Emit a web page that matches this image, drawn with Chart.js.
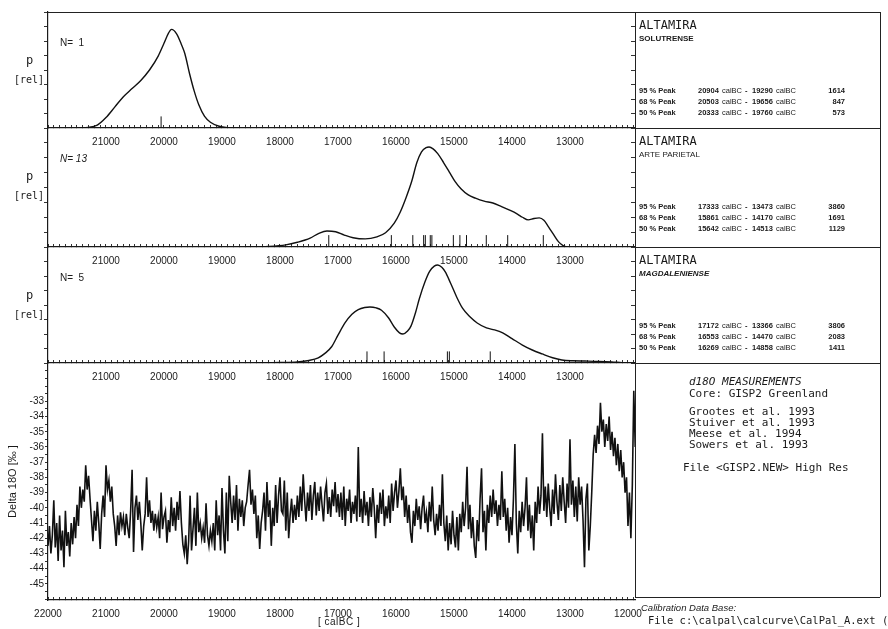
<!DOCTYPE html>
<html><head><meta charset="utf-8">
<script src="https://cdn.jsdelivr.net/npm/chart.js@4.4.1/dist/chart.umd.min.js"></script>
<style>
html,body{margin:0;padding:0;background:#fff;}
body{width:888px;height:629px;position:relative;overflow:hidden;font-family:'Liberation Sans',Arial,sans-serif;color:#1a1a1a;}
canvas{position:absolute;left:0;}
.t{position:absolute;white-space:pre;line-height:1;}
.hl{position:absolute;height:0;border-top:1px solid #222;}
.vl{position:absolute;width:0;border-left:1px solid #222;}
.mono{font-family:'DejaVu Sans Mono',monospace;}
.alt{font-size:12px;}
.sub{font-size:8px;font-weight:bold;}
.row{font-size:7.5px;font-weight:bold;}
.bx{font-size:11px;}
</style></head><body>
<canvas id="c1" width="655" height="142" style="top:10px"></canvas>
<canvas id="c2" width="655" height="145" style="top:126px"></canvas>
<canvas id="c3" width="655" height="142" style="top:245px"></canvas>
<canvas id="c4" width="655" height="265" style="top:361px"></canvas>

<div class="hl" style="left:48px;top:12px;width:832px"></div>
<div class="hl" style="left:635px;top:128px;width:245px"></div>
<div class="hl" style="left:635px;top:247px;width:245px"></div>
<div class="hl" style="left:635px;top:363px;width:245px"></div>
<div class="hl" style="left:635px;top:597px;width:245px"></div>
<div class="vl" style="left:635px;top:12px;height:586px"></div>
<div class="vl" style="left:880px;top:12px;height:585px"></div>

<div id="txt"></div>

<script>
// ---------- axis tick labels ----------
const panelTickLabels = [21000, 20000, 19000, 18000, 17000, 16000, 15000, 14000, 13000];
const d18oXTickLabels = [22000, 21000, 20000, 19000, 18000, 17000, 16000, 15000, 14000, 13000, 12000];
const d18oYTickLabels = [-33, -34, -35, -36, -37, -38, -39, -40, -41, -42, -43, -44, -45];

// ---------- Panel 1: SOLUTRENSE (N=1) ----------
const solutrenseYears = [21500, 21300, 21150, 21000, 20850, 20700, 20550, 20400, 20250, 20100, 20000, 19920, 19870, 19780, 19700, 19640, 19560, 19480, 19400, 19300, 19200, 19050, 18900, 18700];
const solutrenseP     = [0, 0.005, 0.025, 0.09, 0.18, 0.27, 0.34, 0.41, 0.5, 0.62, 0.73, 0.82, 0.85, 0.81, 0.72, 0.64, 0.47, 0.32, 0.2, 0.1, 0.05, 0.015, 0.003, 0];
const solutrenseSamples = [20050];

// ---------- Panel 2: ARTE PARIETAL (N=13) ----------
const parietalYears = [18600, 18200, 17900, 17700, 17480, 17330, 17190, 17040, 16890, 16740, 16530, 16330, 16180, 16030, 15930, 15830, 15730, 15640, 15560, 15480, 15430, 15360, 15280, 15180, 15080, 14980, 14880, 14760, 14630, 14480, 14330, 14180, 14020, 13920, 13820, 13720, 13620, 13530, 13450, 13370, 13290, 13200, 13120, 13050];
const parietalP     = [0, 0.005, 0.018, 0.04, 0.075, 0.115, 0.135, 0.128, 0.1, 0.078, 0.068, 0.085, 0.12, 0.2, 0.29, 0.41, 0.55, 0.71, 0.8, 0.835, 0.84, 0.825, 0.785, 0.71, 0.63, 0.55, 0.49, 0.44, 0.41, 0.385, 0.37, 0.34, 0.305, 0.28, 0.25, 0.228, 0.24, 0.245, 0.225, 0.17, 0.11, 0.045, 0.012, 0];
const parietalSamples = [17159, 16080, 15710, 15523, 15494, 15409, 15381, 15011, 14898, 14784, 14443, 14074, 13460];

// ---------- Panel 3: MAGDALENIENSE (N=5) ----------
const magdaYears = [18400, 18000, 17700, 17500, 17340, 17220, 17110, 17000, 16880, 16760, 16650, 16540, 16450, 16340, 16250, 16130, 16030, 15940, 15880, 15800, 15740, 15660, 15600, 15500, 15420, 15340, 15280, 15210, 15150, 15060, 14950, 14850, 14730, 14600, 14440, 14300, 14160, 14000, 13820, 13650, 13480, 13300, 13140, 12950, 12740, 12500, 12280, 12100, 11950];
const magdaP     = [0, 0.004, 0.009, 0.022, 0.045, 0.085, 0.14, 0.24, 0.345, 0.42, 0.46, 0.478, 0.483, 0.475, 0.455, 0.39, 0.31, 0.26, 0.25, 0.275, 0.32, 0.44, 0.55, 0.7, 0.79, 0.835, 0.845, 0.825, 0.785, 0.69, 0.565, 0.47, 0.4, 0.345, 0.302, 0.285, 0.259, 0.21, 0.155, 0.112, 0.078, 0.045, 0.026, 0.019, 0.017, 0.014, 0.009, 0.003, 0];
const magdaSamples = [16500, 16205, 15114, 15080, 14375];

// ---------- Panel 4: GISP2 delta 18O, 25-year steps starting 22000 calBC ----------
const d18oStart = 22000, d18oStep = 25;
const d18o_a = [-42.5,-41.2,-43.0,-41.8,-39.5,-42.6,-41.0,-43.5,-40.5,-42.8,-41.5,-43.9,-40.2,-42.5,-41.6,-43.2,-41.0,-42.4,-40.6,-42.0,-39.8,-41.2,-38.6,-40.0,-38.8,-39.6,-37.2,-38.8,-37.9,-39.4,-40.8,-42.2,-40.2,-41.5,-39.6,-41.0,-42.7,-40.4,-39.2,-40.6];
const d18o_b = [-37.2,-38.8,-38.2,-39.6,-38.6,-40.4,-41.2,-42.5,-40.5,-41.8,-40.3,-41.2,-40.6,-41.8,-40.4,-41.3,-42.0,-40.2,-37.5,-42.9,-40.0,-39.2,-40.8,-39.6,-41.0,-42.8,-41.2,-40.4,-38.0,-40.6,-39.5,-41.0,-40.2,-41.5,-40.4,-41.3,-40.6,-42.0,-39.0,-41.4,-40.6];
const d18o_c = [-40.2,-42.3,-40.8,-41.6,-39.3,-41.2,-40.0,-41.5,-39.6,-40.8,-38.9,-41.0,-42.4,-43.0,-41.8,-43.7,-42.2,-39.2,-42.8,-41.4,-40.0,-42.5,-39.0,-41.6,-41.0,-42.0,-41.3,-42.3,-39.7,-41.8,-42.5,-41.5,-42.2,-41.0,-42.8,-39.5,-41.8,-40.5,-42.8,-38.7];
const d18o_d = [-41.5,-43.0,-39.0,-42.2,-37.9,-39.6,-41.0,-39.2,-40.8,-38.5,-41.5,-39.4,-40.6,-39.5,-41.2,-40.0,-39.6,-38.5,-37.5,-39.8,-38.8,-40.4,-39.2,-42.0,-40.5,-42.7,-41.0,-40.2,-39.0,-41.5,-38.3,-40.6,-39.5,-42.5,-40.0,-41.2,-38.5,-41.0,-39.2,-38.0,-40.2];
const d18o_e = [-40.4,-38.2,-41.5,-39.0,-42.0,-40.5,-39.4,-41.0,-39.8,-40.8,-39.2,-40.6,-38.6,-40.2,-37.8,-39.5,-40.9,-39.0,-40.2,-38.5,-40.8,-39.2,-38.3,-40.5,-39.0,-40.2,-38.6,-39.8,-40.9,-39.0,-38.4,-40.4,-39.3,-40.6,-38.8,-39.9,-38.3,-40.3,-39.1,-40.6];
const d18o_f = [-39.0,-40.8,-38.6,-41.2,-39.4,-40.2,-38.8,-41.0,-39.6,-40.4,-39.2,-40.9,-36.0,-40.6,-39.4,-41.0,-38.9,-40.5,-39.6,-41.2,-39.3,-40.6,-38.7,-40.0,-42.0,-39.8,-41.0,-39.0,-40.4,-38.8,-41.2,-39.9,-40.7,-39.2,-41.0,-38.4,-40.2,-39.0,-38.2,-40.0,-38.9];
const d18o_g = [-37.4,-39.5,-38.6,-40.6,-39.2,-41.0,-39.8,-41.6,-42.3,-40.2,-41.2,-39.4,-40.8,-39.9,-41.4,-40.0,-39.2,-41.0,-40.3,-41.6,-39.6,-40.9,-38.6,-40.8,-41.8,-40.4,-41.5,-39.8,-41.2,-37.8,-41.0,-42.2,-40.5,-42.8,-41.0,-42.4,-40.2,-41.8,-42.6,-40.6];
const d18o_h = [-42.8,-40.4,-41.6,-39.6,-41.2,-40.0,-37.3,-41.4,-39.8,-42.0,-40.6,-42.5,-43.3,-40.8,-42.2,-39.4,-37.4,-41.6,-40.2,-42.8,-39.8,-41.0,-39.2,-40.6,-38.8,-40.4,-39.5,-41.2,-39.8,-40.8,-37.6,-40.6,-39.4,-41.5,-40.0,-42.3,-40.6,-41.8,-39.4,-35.8,-41.0];
const d18o_i = [-43.0,-40.2,-41.6,-39.6,-41.2,-40.0,-38.0,-41.5,-39.8,-42.0,-40.5,-42.8,-39.6,-41.0,-38.6,-40.4,-39.2,-35.1,-40.2,-38.6,-40.6,-38.4,-40.0,-41.2,-38.8,-40.4,-37.8,-39.6,-40.8,-38.5,-40.2,-38.0,-39.6,-41.0,-38.4,-40.0,-35.5,-39.8,-38.2,-40.6];
const d18o_j = [-38.6,-40.9,-38.0,-39.8,-38.6,-40.8,-43.9,-39.4,-38.4,-42.8,-41.2,-39.0,-36.5,-35.2,-36.4,-34.6,-35.8,-33.1,-35.0,-34.2,-36.0,-34.5,-35.6,-34.0,-36.2,-35.0,-36.6,-35.4,-37.2,-35.8,-37.6,-36.2,-38.0,-37.0,-39.0,-38.0,-41.2,-39.0,-42.0,-38.5,-32.3,-36.0];

// ---------- text ----------
const boxes = [
  {top:12,  site:'ALTAMIRA', sub:'SOLUTRENSE', subStyle:'', n:'N=  1', nStyle:'',
   rows:[['95 % Peak','20904','19290','1614'],['68 % Peak','20503','19656','847'],['50 % Peak','20333','19760','573']]},
  {top:128, site:'ALTAMIRA', sub:'ARTE PARIETAL', subStyle:'font-weight:normal;', n:'N= 13', nStyle:'font-style:italic;',
   rows:[['95 % Peak','17333','13473','3860'],['68 % Peak','15861','14170','1691'],['50 % Peak','15642','14513','1129']]},
  {top:247, site:'ALTAMIRA', sub:'MAGDALENIENSE', subStyle:'font-style:italic;', n:'N=  5', nStyle:'',
   rows:[['95 % Peak','17172','13366','3806'],['68 % Peak','16553','14470','2083'],['50 % Peak','16269','14858','1411']]}
];

const txt = document.getElementById('txt');
function put(s, style, cls){ const d=document.createElement('div'); d.className='t '+(cls||''); d.style.cssText=style; d.textContent=s; txt.appendChild(d); return d; }

boxes.forEach(b=>{
  const T=b.top;
  put(b.site, `left:639px;top:${T+7}px;`, 'mono alt');
  put(b.sub, `left:639px;top:${T+23}px;`+b.subStyle, 'sub');
  b.rows.forEach((r,i)=>{
    const y=T+75+i*11;
    put(r[0], `left:639px;top:${y}px;`, 'row');
    put(r[1], `left:698px;top:${y}px;`, 'row');
    put('calBC', `left:722px;top:${y}px;font-weight:normal;`, 'row');
    put('-', `left:745px;top:${y}px;`, 'row');
    put(r[2], `left:752px;top:${y}px;`, 'row');
    put('calBC', `left:776px;top:${y}px;font-weight:normal;`, 'row');
    put(r[3], `right:${888-845}px;top:${y}px;`, 'row');
  });
  put(b.n, `left:60px;top:${T+26}px;font-size:10px;`+b.nStyle, '');
  put('p', `left:26px;top:${T+42}px;font-size:12px;`, 'mono');
  put('[rel]', `left:14px;top:${T+63}px;font-size:10px;`, 'mono');
});

put('d18O MEASUREMENTS', 'left:689px;top:376px;font-style:italic;', 'mono bx');
put('Core: GISP2 Greenland', 'left:689px;top:388px;', 'mono bx');
put('Grootes et al. 1993', 'left:689px;top:406px;', 'mono bx');
put('Stuiver et al. 1993', 'left:689px;top:417px;', 'mono bx');
put('Meese et al. 1994', 'left:689px;top:428px;', 'mono bx');
put('Sowers et al. 1993', 'left:689px;top:439px;', 'mono bx');
put('File <GISP2.NEW> High Res', 'left:683px;top:462px;', 'mono bx');
put('Calibration Data Base:', 'left:641px;top:603px;font-size:9.5px;font-style:italic;', '');
put('File c:\\calpal\\calcurve\\CalPal_A.ext (INTCAL98)', 'left:648px;top:615px;font-size:10.5px;', 'mono');
put('[ calBC ]', 'left:318px;top:617px;font-size:10px;letter-spacing:0.5px;', '');

// ---------- charts ----------
const FONT = {family:"'Liberation Sans', Arial, sans-serif", size:10};
const X_MIN = 11879, X_MAX = 22000;
function xTicks(s){ const t=[]; for(let v=11900; v<=22000; v+=100) t.push({value:v}); s.ticks=t; }
function xScale(labels, h){
  return {
    type:'linear', min:X_MIN, max:X_MAX, reverse:true,
    afterBuildTicks:xTicks,
    ticks:{autoSkip:false, maxRotation:0, minRotation:0, padding:11, color:'#1a1a1a', font:FONT,
      callback:v => labels.includes(v) ? String(v) : ''},
    grid:{drawOnChartArea:false, drawTicks:true, tickLength:-3, color:'#333', lineWidth:1},
    border:{display:true, color:'#1a1a1a', width:1.2},
    afterFit:s=>{ s.height=h; s.paddingLeft=0; s.paddingRight=0; s.paddingTop=0; s.paddingBottom=0; }
  };
}
const pTicks = s=>{ s.ticks=[0,0.125,0.25,0.375,0.5,0.625,0.75,0.875,1].map(v=>({value:v})); };

function markerData(years, h){ const d=[]; years.forEach(x=>{ d.push({x,y:0},{x,y:h},{x,y:null}); }); return d; }

function panel(id, years, p, samples){
  new Chart(document.getElementById(id), {
    type:'line',
    data:{datasets:[
      {data:years.map((x,i)=>({x, y:p[i]})), borderColor:'#111', borderWidth:1.4, pointRadius:0,
       cubicInterpolationMode:'monotone', xAxisID:'x', yAxisID:'y'},
      {data:markerData(samples, 0.1), borderColor:'#111', borderWidth:1, pointRadius:0, spanGaps:false, xAxisID:'x', yAxisID:'y'}
    ]},
    options:{
      responsive:false, animation:false, devicePixelRatio:1, events:[],
      layout:{padding:{top:2, left:0, right:0, bottom:0}},
      plugins:{legend:{display:false}, tooltip:{enabled:false}},
      scales:{
        x:xScale(panelTickLabels, 24),
        y:{type:'linear', min:0, max:1, afterBuildTicks:pTicks, ticks:{display:false},
           grid:{drawOnChartArea:false, tickLength:4, color:'#333'}, border:{display:true, color:'#1a1a1a', width:1.2},
           afterFit:s=>{ s.width=48; s.paddingTop=0; s.paddingBottom=0; }},
        yr:{type:'linear', position:'right', min:0, max:1, afterBuildTicks:pTicks, ticks:{display:false},
           grid:{drawOnChartArea:false, tickLength:-4, color:'#333'}, border:{display:false},
           afterFit:s=>{ s.width=20; s.paddingTop=0; s.paddingBottom=0; }}
      }
    }
  });
}
panel('c1', solutrenseYears, solutrenseP, solutrenseSamples);
panel('c2', parietalYears, parietalP, parietalSamples);
panel('c3', magdaYears, magdaP, magdaSamples);

const d18o = [].concat(d18o_a, d18o_b, d18o_c, d18o_d, d18o_e, d18o_f, d18o_g, d18o_h, d18o_i, d18o_j);
new Chart(document.getElementById('c4'), {
  type:'line',
  data:{datasets:[{data:d18o.map((v,i)=>({x:d18oStart - i*d18oStep, y:v})), borderColor:'#111', borderWidth:1.6,
    pointRadius:0, tension:0, xAxisID:'x', yAxisID:'y'}]},
  options:{
    responsive:false, animation:false, devicePixelRatio:1, events:[],
    layout:{padding:{top:2, left:0, right:0, bottom:0}},
    plugins:{legend:{display:false}, tooltip:{enabled:false}},
    scales:{
      x:xScale(d18oXTickLabels, 26),
      y:{type:'linear', min:-46.06, max:-30.48,
         title:{display:true, text:'Delta 18O [\u2030 ]', color:'#1a1a1a', padding:{top:6, bottom:0},
                font:{family:"'Liberation Sans', Arial, sans-serif", size:11}},
         afterBuildTicks:s=>{ const t=[]; for(let v=-46; v<=-31; v+=0.5) t.push({value:v}); s.ticks=t; },
         ticks:{autoSkip:false, padding:1, color:'#1a1a1a', font:FONT,
           callback:v => d18oYTickLabels.includes(v) ? String(v) : ''},
         grid:{drawOnChartArea:false, tickLength:3, color:'#333'}, border:{display:true, color:'#1a1a1a', width:1.2},
         afterFit:s=>{ s.width=48; s.paddingTop=0; s.paddingBottom=0; }},
      yr:{type:'linear', position:'right', min:0, max:1, display:true, ticks:{display:false},
         grid:{display:false}, border:{display:false}, afterFit:s=>{ s.width=20; }}
    }
  }
});
</script>
</body></html>
